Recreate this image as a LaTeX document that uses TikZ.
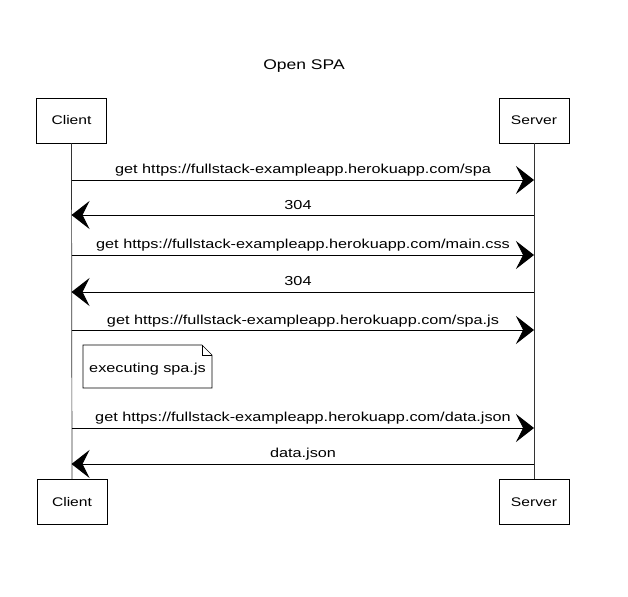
\documentclass[tikz,border=0pt]{standalone}
\usepackage{fontspec}
\setmainfont{Liberation Sans}
\usetikzlibrary{arrows.meta}
\newcommand{\hstretch}[1]{\scalebox{1.25}[1]{#1}}
\begin{document}
\begin{tikzpicture}[x=1pt,y=-1pt,
  actor/.style={draw=black,line width=0.7pt,minimum width=70pt,minimum height=45pt,font=\fontsize{12.5}{14}\selectfont},
  life/.style={draw=black!80,line width=0.7pt},
  msg/.style={draw=black,line width=1pt,-{Stealth[length=18pt,width=28pt,inset=7pt]}},
  lbl/.style={font=\fontsize{13}{15}\selectfont,inner sep=0pt,anchor=base}]
\useasboundingbox (0,0) rectangle (628,596);
\node[font=\fontsize{14}{16}\selectfont] (title) at (304,66) {\hstretch{Open SPA}};
\node[actor] (ct) at (71.5,120.5) {\hstretch{Client}};
\node[actor] (st) at (534,120.5) {\hstretch{Server}};
\node[actor] (cb) at (72,502) {\hstretch{Client}};
\node[actor] (sb) at (534,502) {\hstretch{Server}};
\draw[life] (ct.south) -- (cb.north);
\draw[life] (st.south) -- (sb.north);
% messages
\foreach \n/\y in {1/180,2/215,3/255,4/292,5/330,6/428,7/464}{
  \coordinate (c\n) at (71.5,\y);
  \coordinate (s\n) at (534,\y);
}
\draw[msg] (c1) -- (s1);
\node[lbl] (l1) at (303,173) {\hstretch{get https://fullstack-exampleapp.herokuapp.com/spa}};
\draw[msg] (s2) -- (c2);
\node[lbl] (l2) at (298,209) {\hstretch{304}};
\draw[msg] (c3) -- (s3);
\node[lbl] (l3) at (303,248) {\hstretch{get https://fullstack-exampleapp.herokuapp.com/main.css}};
\draw[msg] (s4) -- (c4);
\node[lbl] (l4) at (298,285) {\hstretch{304}};
\draw[msg] (c5) -- (s5);
\node[lbl] (l5) at (303,324) {\hstretch{get https://fullstack-exampleapp.herokuapp.com/spa.js}};
\draw[msg] (c6) -- (s6);
\node[lbl] (l6) at (303,421) {\hstretch{get https://fullstack-exampleapp.herokuapp.com/data.json}};
\draw[msg] (s7) -- (c7);
\node[lbl] (l7) at (303,457) {\hstretch{data.json}};
% note
\draw[line width=0.7pt,fill=white] (83,345) -- (202,345) -- (212,355) -- (212,388) -- (83,388) -- cycle;
\draw[line width=0.6pt] (202,345) -- (202,355) -- (212,355);
\node[lbl,anchor=center] (note) at (147.5,369) {\hstretch{executing spa.js}};
\end{tikzpicture}
\end{document}
